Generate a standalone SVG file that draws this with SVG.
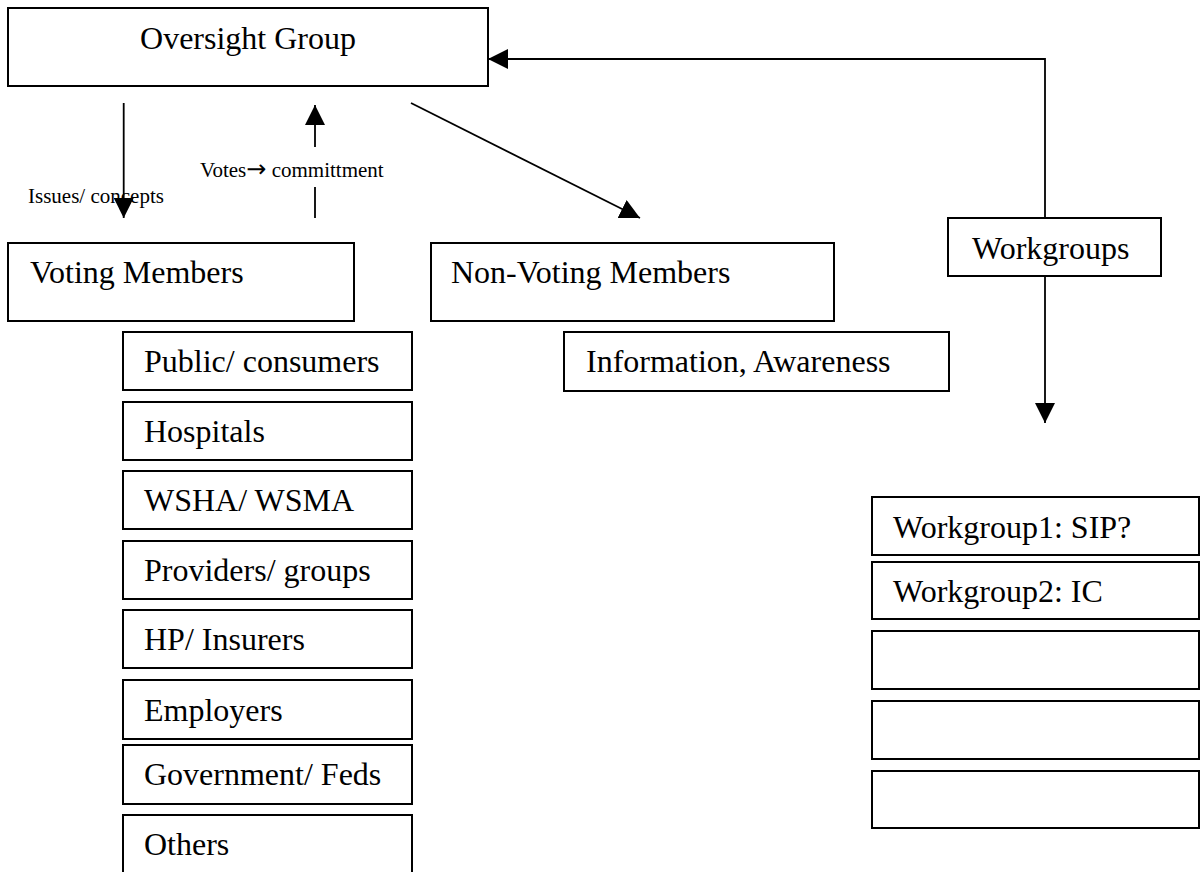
<svg xmlns="http://www.w3.org/2000/svg" width="1200" height="872" viewBox="0 0 1200 872">
<style>
.box{fill:#fff;stroke:#000;stroke-width:2}
.t{font-family:"Liberation Serif","Times New Roman",serif;font-size:32px;fill:#000}
.lbl{font-family:"Liberation Serif","Times New Roman",serif;font-size:21px;fill:#000}
.sym{font-family:"DejaVu Sans",sans-serif;font-size:24px}
.ln{fill:none;stroke:#000;stroke-width:1.8}
</style>
<defs>
<marker id="ah" viewBox="0 0 20 20" refX="20" refY="10" markerWidth="20" markerHeight="20" markerUnits="userSpaceOnUse" orient="auto">
<path d="M0,0 L20,10 L0,20 z" fill="#000"/>
</marker>
</defs>
<rect width="1200" height="872" fill="#fff"/>

<g id="oversight"><rect class="box" x="8" y="8" width="480" height="78"/><text class="t" x="248" y="49" text-anchor="middle">Oversight Group</text></g>
<g id="voting"><rect class="box" x="8" y="243" width="346" height="78"/><text class="t" x="30" y="283">Voting Members</text></g>
<g id="nonvoting"><rect class="box" x="431" y="243" width="403" height="78"/><text class="t" x="451" y="283">Non-Voting Members</text></g>
<g id="info"><rect class="box" x="564" y="332" width="385" height="59"/><text class="t" x="586" y="372">Information, Awareness</text></g>
<g id="workgroups"><rect class="box" x="948" y="218" width="213" height="58"/><text class="t" x="972" y="259">Workgroups</text></g>

<g id="public"><rect class="box" x="123" y="332" width="289" height="58"/><text class="t" x="144" y="372">Public/ consumers</text></g>
<g id="hospitals"><rect class="box" x="123" y="402" width="289" height="58"/><text class="t" x="144" y="442">Hospitals</text></g>
<g id="wsha"><rect class="box" x="123" y="471" width="289" height="58"/><text class="t" x="144" y="511">WSHA/ WSMA</text></g>
<g id="providers"><rect class="box" x="123" y="541" width="289" height="58"/><text class="t" x="144" y="581">Providers/ groups</text></g>
<g id="hp"><rect class="box" x="123" y="610" width="289" height="58"/><text class="t" x="144" y="650">HP/ Insurers</text></g>
<g id="employers"><rect class="box" x="123" y="680" width="289" height="59"/><text class="t" x="144" y="721">Employers</text></g>
<g id="government"><rect class="box" x="123" y="745" width="289" height="59"/><text class="t" x="144" y="785">Government/ Feds</text></g>
<g id="others"><rect class="box" x="123" y="815" width="289" height="70"/><text class="t" x="144" y="855">Others</text></g>

<g id="wg1"><rect class="box" x="872" y="497" width="327" height="58"/><text class="t" x="893" y="538">Workgroup1: SIP?</text></g>
<g id="wg2"><rect class="box" x="872" y="562" width="327" height="57"/><text class="t" x="893" y="602">Workgroup2: IC</text></g>
<g id="wg3"><rect class="box" x="872" y="631" width="327" height="58"/></g>
<g id="wg4"><rect class="box" x="872" y="701" width="327" height="58"/></g>
<g id="wg5"><rect class="box" x="872" y="771" width="327" height="57"/></g>

<g id="labels">
<text class="lbl" x="28" y="203">Issues/ concepts</text>
<text class="lbl" x="200" y="177" xml:space="preserve">Votes<tspan class="sym">→</tspan> committment</text>
</g>

<g id="connectors">
<path class="ln" d="M123.7,103 L123.7,218" marker-end="url(#ah)"/>
<path class="ln" d="M315,218 L315,187 M315,147 L315,105" marker-end="url(#ah)"/>
<path class="ln" d="M411,103 L640,218" marker-end="url(#ah)"/>
<path class="ln" d="M1045,218 L1045,59 L488,59" marker-end="url(#ah)"/>
<path class="ln" d="M1045,276 L1045,423" marker-end="url(#ah)"/>
</g>
</svg>
